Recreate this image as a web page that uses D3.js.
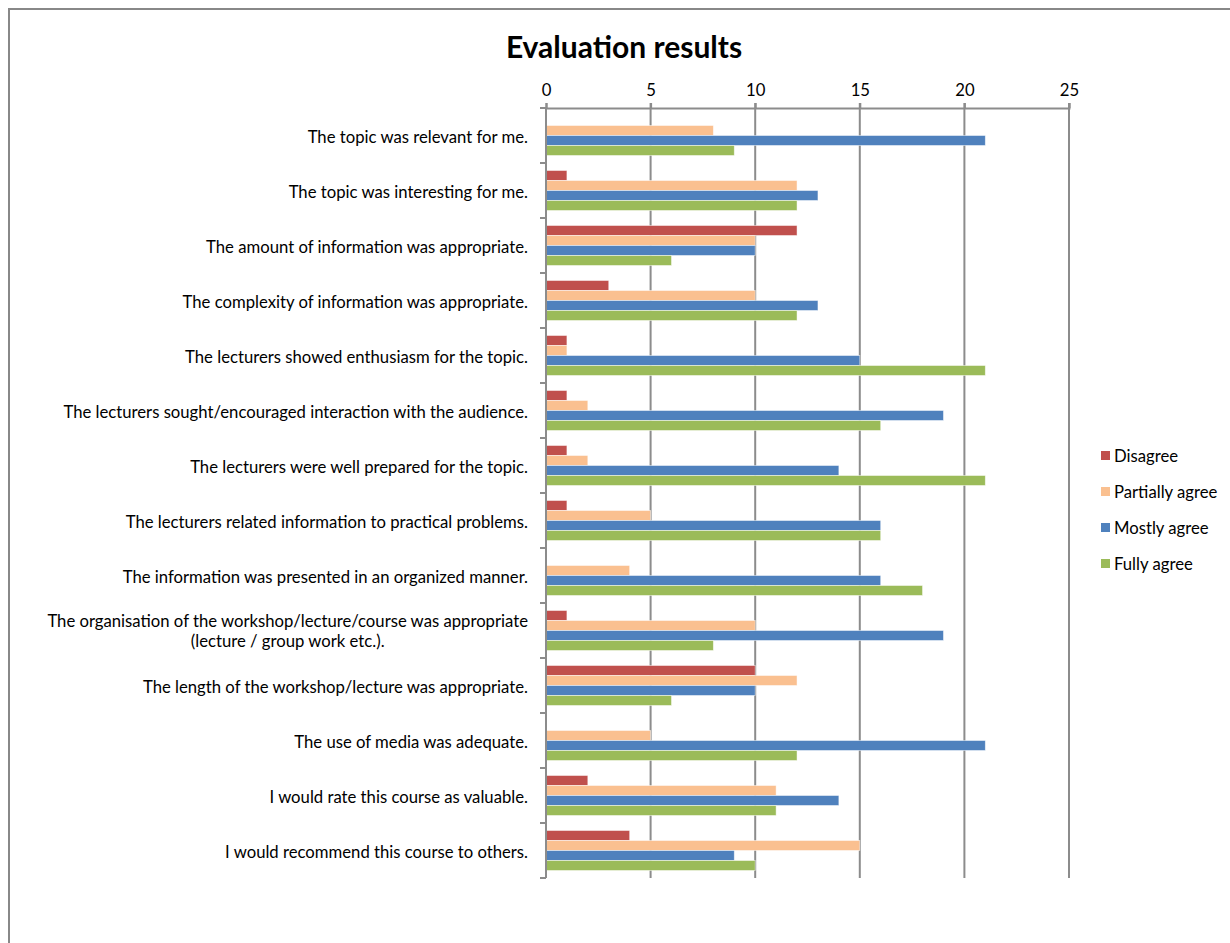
<!DOCTYPE html>
<html><head><meta charset="utf-8">
<script src="https://cdn.jsdelivr.net/npm/d3@7"></script>
<style>
body{margin:0;background:#fff;}
text{font-family:Lato,"Open Sans",sans-serif;fill:#000;}
</style></head>
<body><svg id="c" width="1230" height="943"></svg>
<script>
const categories = [
 "The topic was relevant for me.",
 "The topic was interesting for me.",
 "The amount of information was appropriate.",
 "The complexity of information was appropriate.",
 "The lecturers showed enthusiasm for the topic.",
 "The lecturers sought/encouraged interaction with the audience.",
 "The lecturers were well prepared for the topic.",
 "The lecturers related information to practical problems.",
 "The information was presented in an organized manner.",
 "The organisation of the workshop/lecture/course was appropriate\n(lecture / group work etc.).",
 "The length of the workshop/lecture was appropriate.",
 "The use of media was adequate.",
 "I would rate this course as valuable.",
 "I would recommend this course to others."
];
const seriesNames = ["Disagree","Partially agree","Mostly agree","Fully agree"];
const disagree  = [0,1,12,3,1,1,1,1,0,1,10,0,2,4];
const partially = [8,12,10,10,1,2,2,5,4,10,12,5,11,15];
const mostly    = [21,13,10,13,15,19,14,16,16,19,10,21,14,9];
const fully     = [9,12,6,12,21,16,21,16,18,8,6,12,11,10];
const tickValues = [0,5,10,15,20,25];
const colors = ["#C0504D","#FAC090","#4F81BD","#9BBB59"];
const seriesValues = [disagree,partially,mostly,fully];
const FS = "16.7px";

const svg = d3.select("#c");
svg.append("rect").attr("x",9).attr("y",9).attr("width",1240).attr("height",960)
  .attr("fill","none").attr("stroke","#888").attr("stroke-width",2);

svg.append("text").attr("x",624).attr("y",58).attr("text-anchor","middle")
  .style("font-size","30px").style("font-weight","bold").text("Evaluation results");

const x = d3.scaleLinear().domain([0,25]).range([546,1069]);
const y = d3.scaleBand().domain(categories.map((c,i)=>i)).range([108,878]);
const inner = d3.scaleBand().domain(seriesNames).range([0,y.bandwidth()]).paddingOuter(0.75);

// gridlines
svg.append("g").selectAll("line").data(tickValues.slice(1)).join("line")
  .attr("x1",d=>x(d)).attr("x2",d=>x(d)).attr("y1",103).attr("y2",878)
  .attr("stroke","#8c8c8c").attr("stroke-width",2);

// top axis
const ax = svg.append("g").attr("transform","translate(0,108)")
  .call(d3.axisTop(x).tickValues(tickValues).tickSize(5).tickPadding(7));
ax.select(".domain").attr("stroke","#8c8c8c").attr("stroke-width",2);
ax.selectAll(".tick line").attr("stroke","#8c8c8c").attr("stroke-width",2);
ax.selectAll("text").style("font-size",FS).style("font-family","Lato,sans-serif").attr("fill","#000");

// bars
seriesNames.forEach((s,si)=>{
  svg.append("g").selectAll("rect").data(seriesValues[si]).join("rect")
    .attr("x",x(0)).attr("y",(d,i)=>y(i)+inner(s))
    .attr("width",d=>x(d)-x(0)).attr("height",inner.bandwidth())
    .attr("fill",colors[si]).attr("stroke",d=>d>0?"rgba(255,255,255,0.6)":"none").attr("stroke-width",0.8);
});

// left axis
const boundaries = d3.range(categories.length+1).map(i=>108+i*y.step());
svg.append("line").attr("x1",546).attr("x2",546).attr("y1",108).attr("y2",878)
  .attr("stroke","#8c8c8c").attr("stroke-width",2);
svg.append("g").selectAll("line").data(boundaries).join("line")
  .attr("x1",540).attr("x2",546).attr("y1",d=>d).attr("y2",d=>d)
  .attr("stroke","#8c8c8c").attr("stroke-width",2);

// labels
const lg = svg.append("g");
categories.forEach((c,i)=>{
  const lines = c.split("\n");
  const cy = y(i)+y.bandwidth()/2;
  if(lines.length===1){
    lg.append("text").attr("x",528).attr("y",cy+7).attr("text-anchor","end")
      .style("font-size",FS).text(c);
  } else {
    const t1 = lg.append("text").attr("x",528).attr("y",cy-4).attr("text-anchor","end")
      .style("font-size",FS).text(lines[0]);
    const w = t1.node().getComputedTextLength();
    lg.append("text").attr("x",528-w/2).attr("y",cy+16).attr("text-anchor","middle")
      .style("font-size",FS).text(lines[1]);
  }
});

// legend
const leg = svg.append("g");
seriesNames.forEach((s,i)=>{
  const yy = 456+i*36;
  leg.append("rect").attr("x",1101).attr("y",yy-5).attr("width",9).attr("height",9).attr("fill",colors[i]);
  leg.append("text").attr("x",1114).attr("y",yy+6).style("font-size",FS).text(s);
});
</script></body></html>
